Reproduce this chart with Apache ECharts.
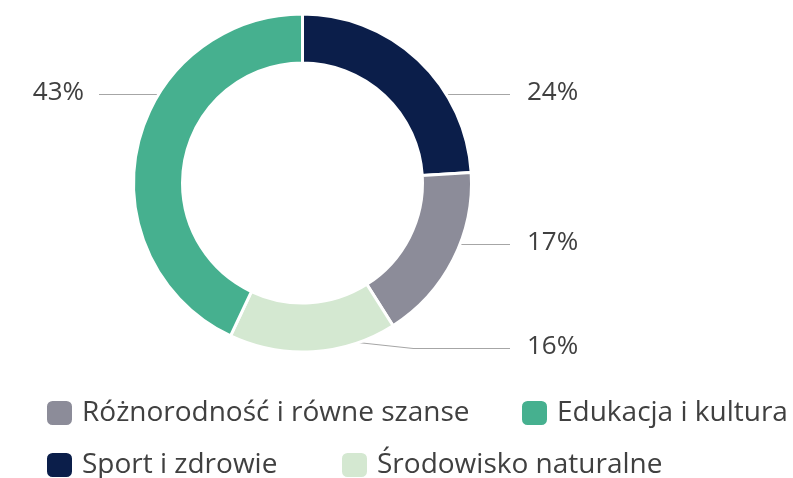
<!DOCTYPE html>
<html lang="pl">
<head>
    <meta charset="UTF-8">
    <title>Wykres</title>
    <script src="https://cdn.jsdelivr.net/npm/echarts@6/dist/echarts.min.js"></script>
    <style>
        html, body { margin: 0; padding: 0; background: #fff; }
    </style>
</head>
<body>
    <div id="main" style="width:793px;height:478px;"></div>

    <script>
        // dane (kolejność jak na wykresie, od góry zgodnie z ruchem wskazówek)
        const categories = ['Sport i zdrowie', 'Różnorodność i równe szanse', 'Środowisko naturalne', 'Edukacja i kultura'];
        const values = [24, 17, 16, 43];
        const colors = ['#0b1e4a', '#8c8c99', '#d4e8d1', '#46b08f'];
        // kolejność w legendzie
        const legendOrder = ['Różnorodność i równe szanse', 'Edukacja i kultura', 'Sport i zdrowie', 'Środowisko naturalne'];

        const cx = 302.5, cy = 183, rIn = 120, rOut = 169;
        const FONT = '"Open Sans", sans-serif';
        const textColor = '#404040';

        // położenie etykiet (środek tekstu w pionie)
        const labelY = [92.5, 242.5, 346.5, 92.5];
        const labelXRight = 527, labelXLeft = 84, lineEndRight = 510, lineEndLeft = 99;

        function labelLayout(params) {
            const i = params.dataIndex;
            const y = labelY[i];
            const ly = y + 2;
            const right = i < 3;
            let pts;
            if (Math.abs(ly - cy) > 0.85 * rOut) {
                // etykieta pod wykresem: linia załamana
                const sy = ly - 7;
                const sx = cx + Math.sqrt((rOut - 4) * (rOut - 4) - (sy - cy) * (sy - cy));
                pts = [[sx, sy], [sx + 65, ly], [lineEndRight, ly]];
            } else {
                const dx = Math.sqrt(rOut * rOut - (ly - cy) * (ly - cy));
                const sx = right ? cx + dx : cx - dx;
                const ex = right ? lineEndRight : lineEndLeft;
                pts = [[sx, ly], [sx, ly], [ex, ly]];
            }
            return {
                x: right ? labelXRight : labelXLeft,
                y: y,
                align: right ? 'left' : 'right',
                verticalAlign: 'middle',
                labelLinePoints: pts
            };
        }

        const legendPos = [[45, 399], [520, 399], [45, 451], [340, 451]];
        const legends = legendOrder.map(function (name, k) {
            return {
                data: [name],
                left: legendPos[k][0],
                top: legendPos[k][1],
                padding: 0,
                orient: 'horizontal',
                icon: 'roundRect',
                itemWidth: 27,
                itemHeight: 26,
                selectedMode: false,
                textStyle: {
                    fontFamily: FONT,
                    fontSize: 28,
                    color: textColor,
                    lineHeight: 26,
                    padding: [0, 0, 0, 4]
                }
            };
        });

        const option = {
            backgroundColor: '#ffffff',
            animation: false,
            legend: legends,
            series: [{
                type: 'pie',
                center: [cx, cy],
                radius: [rIn, rOut],
                startAngle: 90,
                clockwise: true,
                avoidLabelOverlap: false,
                itemStyle: {
                    borderColor: '#ffffff',
                    borderWidth: 3
                },
                label: {
                    show: true,
                    formatter: '{c}%',
                    fontFamily: FONT,
                    fontSize: 26,
                    color: textColor
                },
                labelLine: {
                    show: true,
                    lineStyle: { color: '#a6a6a6', width: 1.2 }
                },
                labelLayout: labelLayout,
                emphasis: { disabled: true },
                data: categories.map(function (name, i) {
                    return { name: name, value: values[i], itemStyle: { color: colors[i] } };
                })
            }]
        };

        var myChart = echarts.init(document.getElementById('main'));
        myChart.setOption(option);
    </script>
</body>
</html>
